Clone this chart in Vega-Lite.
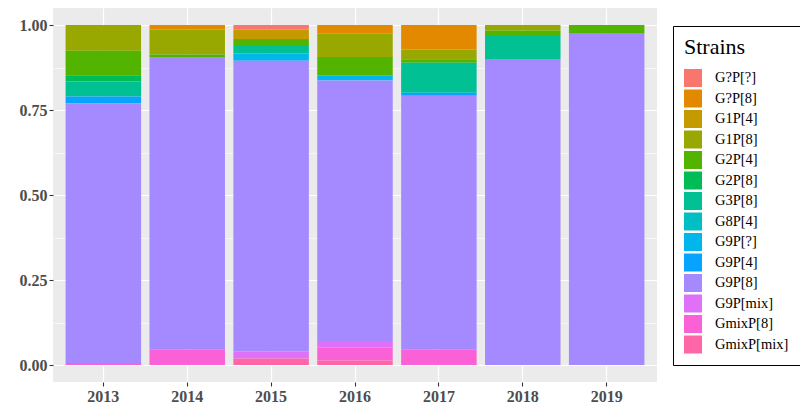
{
  "$schema": "https://vega.github.io/schema/vega-lite/v6.json",
  "autosize": "none",
  "width": 604,
  "height": 374,
  "padding": {"left": 53, "top": 8, "right": 143, "bottom": 24},
  "background": "white",
  "view": {"fill": "#EBEBEB", "stroke": null},
  "data": {"values": [
    {"year": "2013", "strain": "G1P[8]", "p": 0.076},
    {"year": "2013", "strain": "G2P[4]", "p": 0.072},
    {"year": "2013", "strain": "G2P[8]", "p": 0.018},
    {"year": "2013", "strain": "G3P[8]", "p": 0.044},
    {"year": "2013", "strain": "G9P[4]", "p": 0.021},
    {"year": "2013", "strain": "G9P[8]", "p": 0.763},
    {"year": "2013", "strain": "GmixP[8]", "p": 0.006},
    {"year": "2014", "strain": "G?P[8]", "p": 0.013},
    {"year": "2014", "strain": "G1P[8]", "p": 0.074},
    {"year": "2014", "strain": "G2P[4]", "p": 0.007},
    {"year": "2014", "strain": "G9P[8]", "p": 0.861},
    {"year": "2014", "strain": "GmixP[8]", "p": 0.045},
    {"year": "2015", "strain": "G?P[?]", "p": 0.013},
    {"year": "2015", "strain": "G1P[4]", "p": 0.028},
    {"year": "2015", "strain": "G2P[4]", "p": 0.021},
    {"year": "2015", "strain": "G3P[8]", "p": 0.022},
    {"year": "2015", "strain": "G9P[?]", "p": 0.021},
    {"year": "2015", "strain": "G9P[8]", "p": 0.855},
    {"year": "2015", "strain": "G9P[mix]", "p": 0.021},
    {"year": "2015", "strain": "GmixP[mix]", "p": 0.019},
    {"year": "2016", "strain": "G?P[8]", "p": 0.026},
    {"year": "2016", "strain": "G1P[8]", "p": 0.068},
    {"year": "2016", "strain": "G2P[4]", "p": 0.054},
    {"year": "2016", "strain": "G9P[?]", "p": 0.015},
    {"year": "2016", "strain": "G9P[8]", "p": 0.769},
    {"year": "2016", "strain": "G9P[mix]", "p": 0.017},
    {"year": "2016", "strain": "GmixP[8]", "p": 0.038},
    {"year": "2016", "strain": "GmixP[mix]", "p": 0.013},
    {"year": "2017", "strain": "G?P[8]", "p": 0.072},
    {"year": "2017", "strain": "G1P[8]", "p": 0.029},
    {"year": "2017", "strain": "G2P[4]", "p": 0.01},
    {"year": "2017", "strain": "G3P[8]", "p": 0.088},
    {"year": "2017", "strain": "G9P[4]", "p": 0.009},
    {"year": "2017", "strain": "G9P[8]", "p": 0.747},
    {"year": "2017", "strain": "GmixP[8]", "p": 0.045},
    {"year": "2018", "strain": "G1P[8]", "p": 0.016},
    {"year": "2018", "strain": "G2P[4]", "p": 0.016},
    {"year": "2018", "strain": "G3P[8]", "p": 0.068},
    {"year": "2018", "strain": "G9P[8]", "p": 0.9},
    {"year": "2019", "strain": "G2P[4]", "p": 0.026},
    {"year": "2019", "strain": "G9P[8]", "p": 0.974}
  ]},
  "transform": [
    {"calculate": "indexof(['G?P[?]','G?P[8]','G1P[4]','G1P[8]','G2P[4]','G2P[8]','G3P[8]','G8P[4]','G9P[?]','G9P[4]','G9P[8]','G9P[mix]','GmixP[8]','GmixP[mix]'], datum.strain)", "as": "o"}
  ],
  "mark": {"type": "bar"},
  "encoding": {
    "x": {
      "field": "year", "type": "ordinal",
      "scale": {"paddingInner": 0.1, "paddingOuter": 0.15},
      "axis": {
        "title": null, "bandPosition": 0.5, "labelAngle": 0,
        "grid": true, "gridColor": "white", "gridWidth": 1.2,
        "domain": false, "tickColor": "#333333", "tickSize": 4, "tickWidth": 1.1,
        "labelFont": "Liberation Serif", "labelFontWeight": "bold", "labelFontSize": 16,
        "labelColor": "#4D4D4D", "labelPadding": 2
      }
    },
    "y": {
      "field": "p", "type": "quantitative", "stack": "normalize",
      "scale": {"domain": [-0.05, 1.05], "nice": false, "zero": false},
      "axis": {
        "title": null,
        "values": [0, 0.125, 0.25, 0.375, 0.5, 0.625, 0.75, 0.875, 1],
        "labelExpr": "datum.value % 0.25 == 0 ? format(datum.value, '.2f') : ''",
        "grid": true, "gridColor": "white",
        "gridWidth": {"condition": {"test": "datum.value % 0.25 != 0", "value": 0.6}, "value": 1.2},
        "domain": false, "tickColor": "#333333", "tickSize": 4, "tickWidth": 1.1,
        "tickOpacity": {"condition": {"test": "datum.value % 0.25 != 0", "value": 0}, "value": 1},
        "labelFont": "Liberation Serif", "labelFontWeight": "bold", "labelFontSize": 16,
        "labelColor": "#4D4D4D", "labelPadding": 2
      }
    },
    "color": {
      "field": "strain", "type": "nominal",
      "scale": {
        "domain": ["G?P[?]","G?P[8]","G1P[4]","G1P[8]","G2P[4]","G2P[8]","G3P[8]","G8P[4]","G9P[?]","G9P[4]","G9P[8]","G9P[mix]","GmixP[8]","GmixP[mix]"],
        "range": ["#F8766D","#E38900","#C49A00","#99A800","#53B400","#00BC56","#00C094","#00BFC4","#00B6EB","#06A4FF","#A58AFF","#DF70F8","#FB61D7","#FF66A8"]
      },
      "legend": {
        "title": "Strains",
        "orient": "none", "legendX": 620, "legendY": 18,
        "strokeColor": "black", "fillColor": "white", "padding": 11,
        "titleFont": "Liberation Serif", "titleFontSize": 22, "titleFontWeight": "normal", "titleColor": "black",
        "titlePadding": 10,
        "labelFont": "Liberation Serif", "labelFontSize": 14.5, "labelColor": "black", "labelOffset": 13,
        "symbolType": "square", "symbolSize": 324, "symbolStrokeWidth": 0, "symbolOpacity": 1,
        "rowPadding": 2.5
      }
    },
    "order": {"field": "o", "sort": "descending"}
  }
}
